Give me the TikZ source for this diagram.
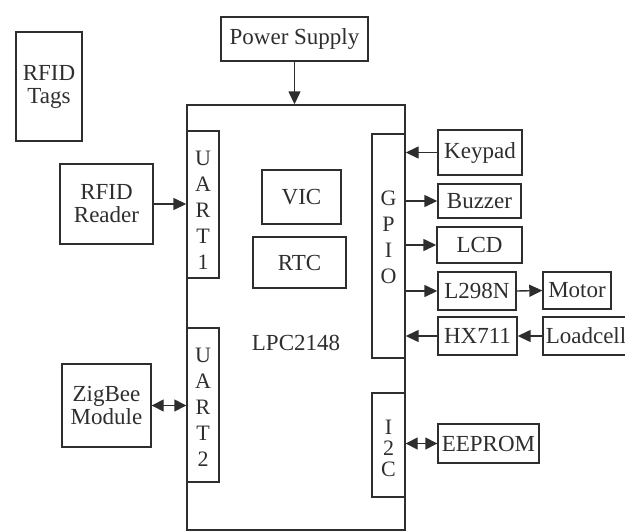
\documentclass[tikz,border=0pt]{standalone}
\usepackage{fontspec}
\setmainfont{Liberation Serif}
\usetikzlibrary{arrows.meta, calc}
\definecolor{inkgray}{HTML}{2E2E2E}

\tikzset{
  blk/.style={draw=inkgray, line width=1.4pt, inner sep=0pt, align=center,
    text=inkgray, font=\fontsize{23}{23}\selectfont},
  vstack/.style={inner sep=0pt, align=center, text=inkgray,
    font=\fontsize{22}{26}\selectfont},
  arr/.style={draw=inkgray, line width=1.4pt, -{Triangle[length=13pt, width=12pt]}},
  darr/.style={draw=inkgray, line width=1.4pt,
    {Triangle[length=12pt, width=12pt]}-{Triangle[length=12pt, width=12pt]}}
}

\begin{document}
\begin{tikzpicture}[x=1pt, y=-1pt]
  \useasboundingbox (0,0) rectangle (625,531);
  \clip (0,0) rectangle (625,531);

  % controller and its blocks
  \node[blk, minimum width=218, minimum height=425] (lpc) at (296,317.5) {};
  \node[blk, minimum width=32, minimum height=147] (uartone) at (203,204.5) {};
  \node[vstack] at (203,210) {U\\A\\R\\T\\1};
  \node[blk, minimum width=32, minimum height=154] (uarttwo) at (203,405) {};
  \node[vstack] at (203,407) {U\\A\\R\\T\\2};
  \node[blk, minimum width=33, minimum height=224] (gpio) at (388.5,246) {};
  \node[vstack] at (388.5,237) {G\\P\\I\\O};
  \node[blk, minimum width=33, minimum height=104] (iic) at (388.5,445) {};
  \node[vstack, font=\fontsize{22}{21}\selectfont] at (388.5,448) {I\\2\\C};
  \node[blk, minimum width=79, minimum height=54] (vic) at (301.5,197) {VIC};
  \node[blk, minimum width=93, minimum height=51] (rtc) at (299.5,262.5) {RTC};
  \node[text=inkgray, font=\fontsize{23}{23}\selectfont] (chip) at (296,343) {LPC2148};

  % outside blocks
  \node[blk, minimum width=147, minimum height=44] (power) at (294.5,39) {Power Supply};
  \node[blk, minimum width=66, minimum height=109] (tags) at (49,86.5) {RFID\\Tags};
  \node[blk, minimum width=93, minimum height=80] (reader) at (106.5,204) {RFID\\Reader};
  \node[blk, minimum width=89, minimum height=83] (zigbee) at (106.5,405.5) {ZigBee\\Module};
  \node[blk, minimum width=84, minimum height=45] (keypad) at (480,152.5) {Keypad};
  \node[blk, minimum width=83, minimum height=34] (buzzer) at (479.5,201) {Buzzer};
  \node[blk, minimum width=85, minimum height=36] (lcd) at (479.5,245) {LCD};
  \node[blk, minimum width=78, minimum height=38] (driver) at (477,291) {L298N};
  \node[blk, minimum width=68, minimum height=37] (motor) at (577,290.5) {Motor};
  \node[blk, minimum width=79, minimum height=38] (hx) at (477.5,336) {HX711};
  \node[blk, minimum width=86, minimum height=38] (loadcell) at (586,336) {Loadcell};
  \node[blk, minimum width=101, minimum height=39] (eeprom) at (488.5,443.5) {EEPROM};

  % connections
  \draw[arr] (power.south) -- (power.south |- lpc.north);
  \draw[arr] (reader.east) -- (reader.east -| uartone.west);
  \draw[darr] (zigbee.east) -- (zigbee.east -| uarttwo.west);
  \draw[arr] (keypad.west) -- (keypad.west -| gpio.east);
  \draw[arr] (buzzer.west -| gpio.east) -- (buzzer.west);
  \draw[arr] (lcd.west -| gpio.east) -- (lcd.west);
  \draw[arr] (driver.west -| gpio.east) -- (driver.west);
  \draw[arr] (driver.east) -- (motor.west);
  \draw[arr] (hx.west) -- (hx.west -| gpio.east);
  \draw[arr] (loadcell.west) -- (hx.east);
  \draw[darr] (eeprom.west) -- (eeprom.west -| iic.east);
\end{tikzpicture}
\end{document}
